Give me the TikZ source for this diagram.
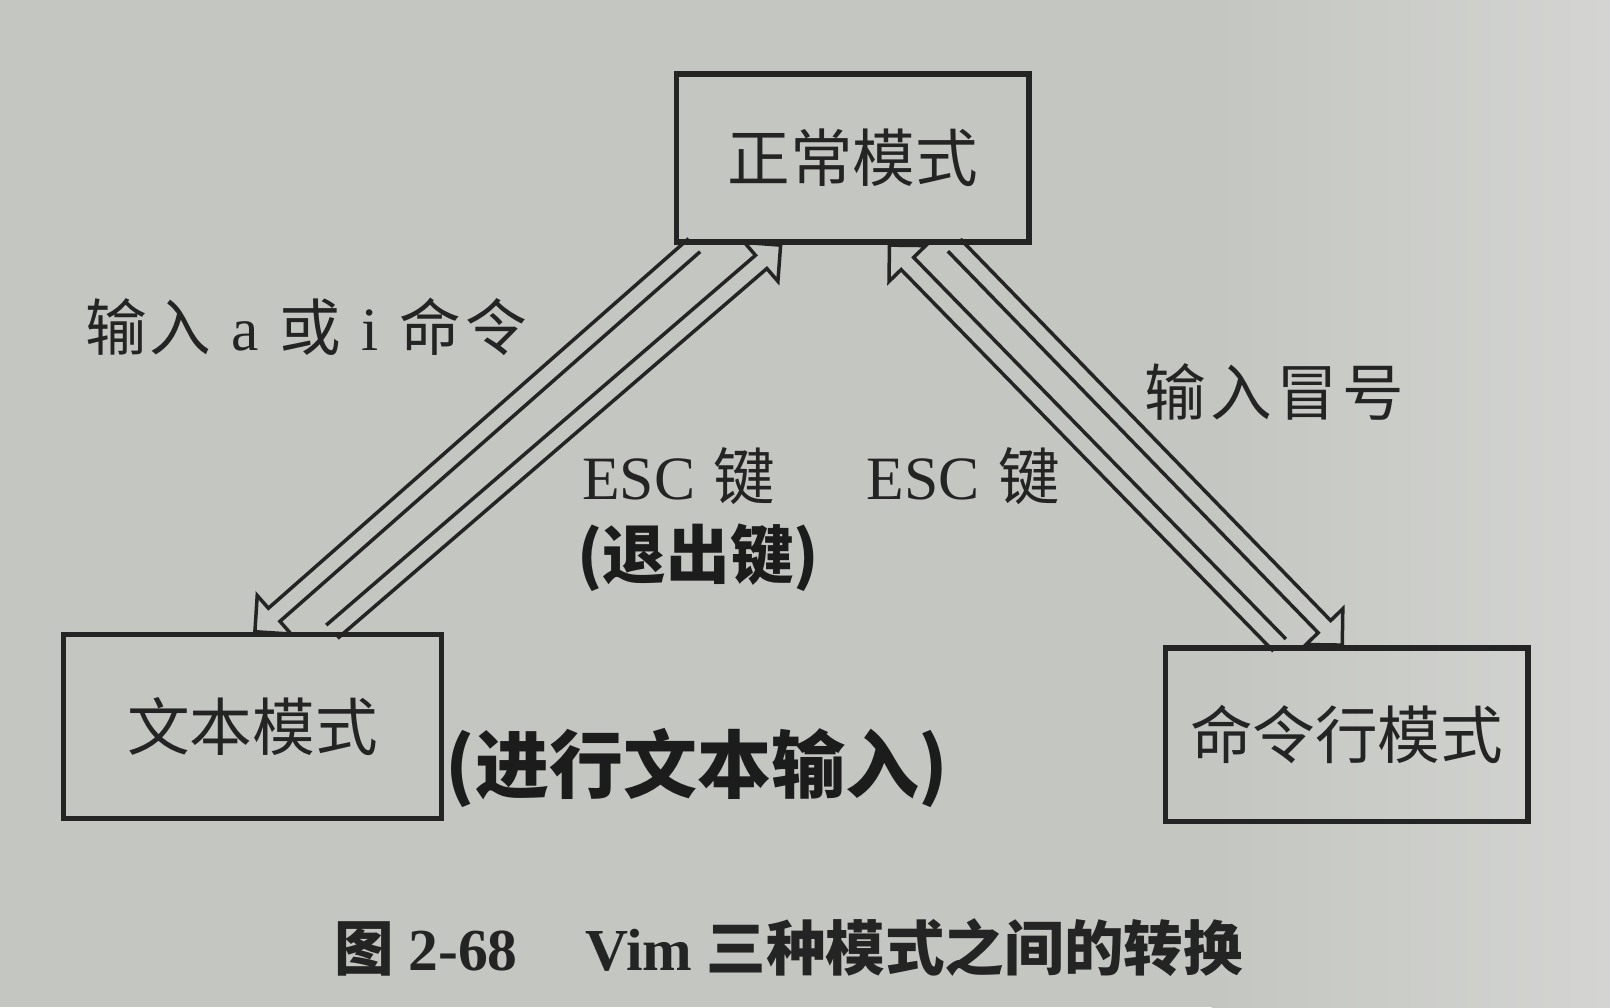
\documentclass[tikz,border=0pt]{standalone}
\usepackage{fontspec}
\setmainfont{Liberation Serif}
\newfontfamily\cjk{Noto Sans CJK SC}
\usetikzlibrary{calc}
\definecolor{paper}{RGB}{196,198,193}
\definecolor{paperlight}{RGB}{212,213,210}
\definecolor{ink}{RGB}{36,36,36}
\definecolor{pen}{RGB}{28,28,28}
\newcommand\shafthw{8.5pt}
\newcommand\headhw{25pt}
\newcommand\headlen{25pt}
% hollow arrow from #1 (start, on a box border) to #2 (tip, on a box border)
\newcommand\hollowarrow[2]{%
  \coordinate (hS) at (#1);
  \coordinate (hT) at (#2);
  \coordinate (hB) at ($(hT)!\headlen!(hS)$);
  \draw[arrowline]
    ($(hS)!\shafthw!90:(hT)$) -- ($(hB)!\shafthw!90:(hT)$) --
    ($(hB)!\headhw!90:(hT)$) -- (hT) --
    ($(hB)!\headhw!-90:(hT)$) -- ($(hB)!\shafthw!-90:(hT)$) --
    ($(hS)!\shafthw!-90:(hT)$);
}
\tikzset{
  modebox/.style={draw=ink, line width=5.5pt, rectangle, inner sep=0pt,
    text=ink, font=\fontsize{61}{64}\selectfont\cjk},
  arrowline/.style={draw=ink, line width=3.4pt, line join=miter},
  lbl/.style={text=ink, inner sep=0pt, font=\fontsize{60}{64}\selectfont},
  hand/.style={text=pen, inner sep=0pt, font=\cjk\bfseries},
  caption/.style={text=ink, inner sep=0pt, font=\fontsize{58}{62}\selectfont\bfseries},
}
\begin{document}
\begin{tikzpicture}[x=1pt,y=-1pt]
  % paper background
  \useasboundingbox (0,0) rectangle (1568,981);
  \fill[paper] (0,0) rectangle (1568,981);
  \shade[left color=paper, right color=paperlight] (1180,0) rectangle (1568,981);

  % mode boxes
  \node[modebox, minimum width=343pt, minimum height=164pt] (nm) at (830.5,154) {正常模式};
  \node[modebox, minimum width=368pt, minimum height=179pt] (tx) at (246,707.5) {文本模式};
  \node[modebox, minimum width=353pt, minimum height=169pt] (cm) at (1311.5,715.5) {命令行模式};

  % connector end points on the box borders
  \coordinate (aS) at ($(nm.south west)+(20,0)$);
  \coordinate (aT) at ($(tx.north west)+(189,0)$);
  \coordinate (bS) at ($(tx.north west)+(264,0)$);
  \coordinate (bT) at ($(nm.south west)+(104,0)$);
  \coordinate (cS) at ($(cm.north west)+(114,0)$);
  \coordinate (cT) at ($(nm.south west)+(210,0)$);
  \coordinate (dS) at ($(nm.south west)+(273,0)$);
  \coordinate (dT) at ($(cm.north west)+(175,0)$);

  % hollow arrows
  \hollowarrow{aS}{aT}
  \hollowarrow{bS}{bT}
  \hollowarrow{cS}{cT}
  \hollowarrow{dS}{dT}

  % labels
  \node[lbl] (l1) at (298,318) {{\cjk 输\hspace{3pt}入}\hspace{20pt}a\hspace{20pt}{\cjk 或}\hspace{20pt}i\hspace{20pt}{\cjk 命\hspace{4pt}令}};
  \node[lbl] (l2) at (661,464) {ESC\hspace{18pt}{\cjk 键}};
  \node[lbl] (l3) at (938,464) {ESC\hspace{18pt}{\cjk 键}};
  \node[lbl] (l4) at (1241,382) {\cjk 输\hspace{4pt}入\hspace{4pt}冒\hspace{4pt}号};
  \node[hand, font=\fontsize{62}{64}\selectfont\cjk\bfseries] (h1) at (680,543) {(退出键)};
  \node[hand, font=\fontsize{72}{74}\selectfont\cjk\bfseries] (h2) at (679,748) {(进行文本输入)};

  % caption
  \node[caption] (cap) at (768,923) {{\cjk 图}\hspace{14pt}2-68\hspace{66pt}Vim\hspace{14pt}{\cjk 三种模式之间的转换}};
\end{tikzpicture}
\end{document}
